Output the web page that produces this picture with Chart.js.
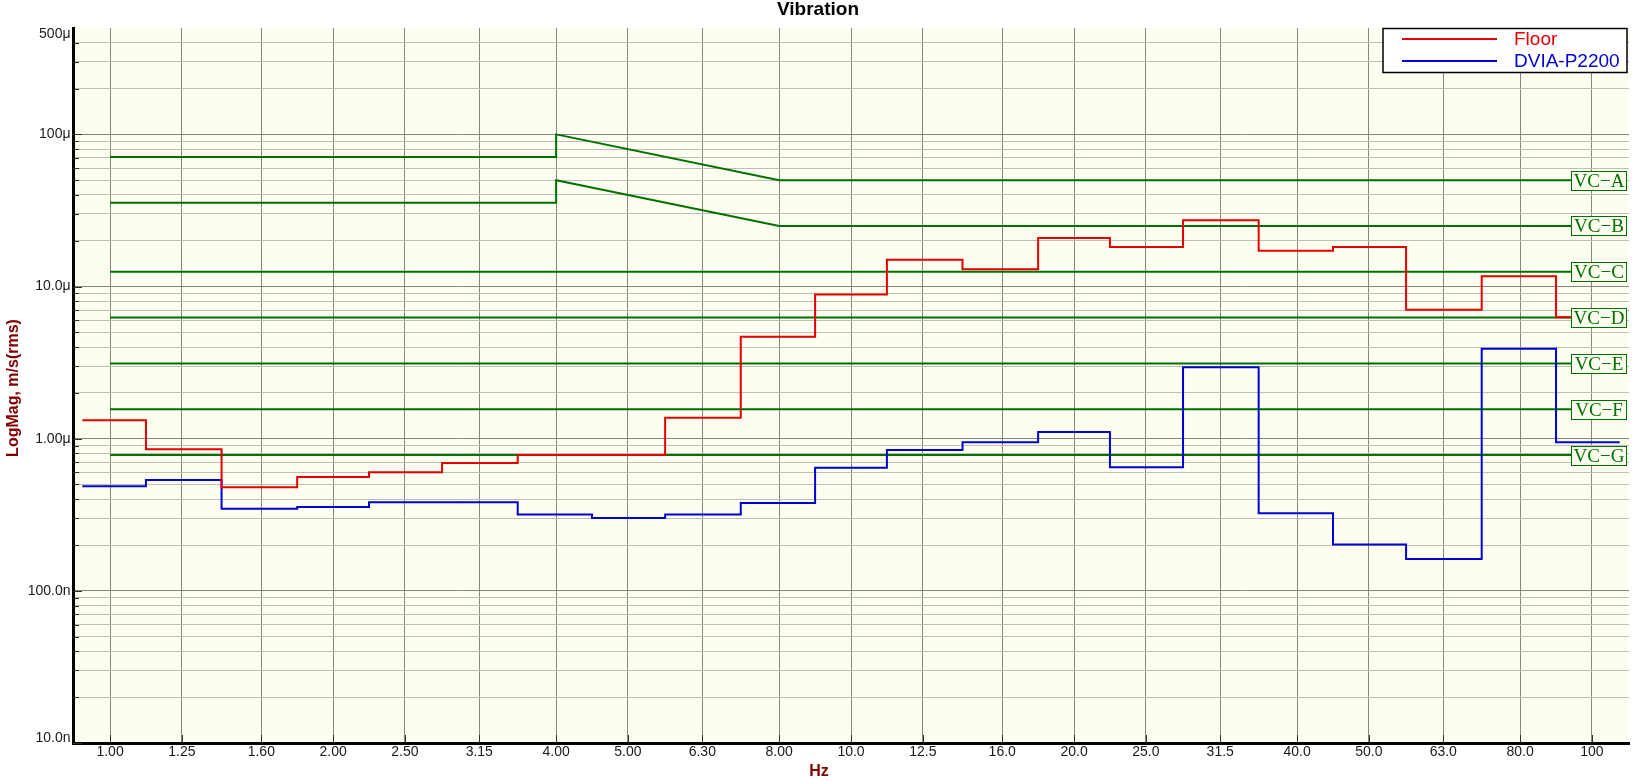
<!DOCTYPE html>
<html>
<head>
<meta charset="utf-8">
<script src="https://cdn.jsdelivr.net/npm/chart.js@4.4.1/dist/chart.umd.min.js"></script>
<style>
html,body{margin:0;padding:0;background:#ffffff;}
#wrap{width:1636px;height:781px;position:relative;}
canvas{display:block;}
</style>
</head>
<body>
<div id="wrap"><canvas id="c" width="1636" height="781"></canvas></div>
<script>
// ---- data (velocity in µm/s rms, 1/3-octave bands) ----
const bandLabels = ['1.00','1.25','1.60','2.00','2.50','3.15','4.00','5.00','6.30','8.00','10.0','12.5','16.0','20.0','25.0','31.5','40.0','50.0','63.0','80.0','100'];
const bandCenters = [1,1.25,1.6,2,2.5,3.15,4,5,6.3,8,10,12.5,16,20,25,31.5,40,50,63,80,100];
const floorUm = [1.32,0.853,0.48,0.561,0.602,0.693,0.78,0.78,1.37,4.67,8.87,15.0,13.0,20.8,18.2,27.3,17.2,18.2,7.03,11.7,6.27];
const dviaUm  = [0.487,0.536,0.346,0.356,0.382,0.382,0.317,0.301,0.317,0.378,0.643,0.844,0.947,1.108,0.648,2.95,0.324,0.2015,0.1616,3.9,0.948];
const vcNames  = ['VC−A','VC−B','VC−C','VC−D','VC−E','VC−F','VC−G'];
const vcLowUm  = [71,35.5,12.5,6.25,3.12,1.56,0.78];   // below 4 Hz
const vcPeakUm = [100,50,12.5,6.25,3.12,1.56,0.78];    // at 4 Hz
const vcHighUm = [50,25,12.5,6.25,3.12,1.56,0.78];     // from 8 Hz
const vcFreqs  = [1,4,4,8,100];
const yTickValues = [1e-8,1e-7,1e-6,1e-5,1e-4,5e-4];
const yTickLabels = ['10.0n','100.0n','1.00μ','10.0μ','100μ','500μ'];
const seriesNames = ['Floor','DVIA-P2200'];

// ---- styles ----
const RED = 'rgb(228,0,0)', BLUE = 'rgb(0,0,210)', GREEN = 'rgb(0,112,0)';
const PLOT_BG = '#fefef0';
const SANS = '"Liberation Sans", Arial, sans-serif';
const SERIF = '"Liberation Serif", "Times New Roman", serif';
const BAND_EDGE = 1.09; // half-band extent of first/last band

const U = 1e-6;
function bandSeries(vals){
  const pts = bandCenters.map((f,i)=>({x:f, y:vals[i]*U}));
  pts.unshift({x: bandCenters[0]/BAND_EDGE, y: vals[0]*U});
  pts.push({x: bandCenters[bandCenters.length-1]*BAND_EDGE, y: vals[vals.length-1]*U});
  return pts;
}
function vcSeries(i){
  const ys = [vcLowUm[i], vcLowUm[i], vcPeakUm[i], vcHighUm[i], vcHighUm[i]];
  return vcFreqs.map((f,k)=>({x:f, y:ys[k]*U}));
}

const yGridVals = [];
for (let e=-8; e<=-4; e++) for (let m=1; m<=9; m++){ const v = m*Math.pow(10,e); if (v <= 5e-4*1.0001) yGridVals.push(v); }
const isDecade = v => Math.abs(Math.log10(v) - Math.round(Math.log10(v))) < 1e-9;

const datasets = [
  {label: seriesNames[0], data: bandSeries(floorUm), borderColor: RED, borderWidth: 2, stepped: 'middle', pointRadius: 0, fill: false},
  {label: seriesNames[1], data: bandSeries(dviaUm), borderColor: BLUE, borderWidth: 2, stepped: 'middle', pointRadius: 0, fill: false}
];
vcNames.forEach((n,i)=>datasets.push({label: n, data: vcSeries(i), borderColor: GREEN, borderWidth: 2, pointRadius: 0, fill: false, tension: 0}));

const bgPlugin = {
  id: 'bg',
  beforeDraw(chart){
    const {ctx, chartArea:a} = chart;
    ctx.save(); ctx.fillStyle = PLOT_BG; ctx.fillRect(a.left, a.top, a.right-a.left, a.bottom-a.top); ctx.restore();
  }
};

const vcLabelPlugin = {
  id: 'vcLabels',
  afterDatasetsDraw(chart){
    const {ctx, chartArea:a, scales:{y}} = chart;
    ctx.save();
    ctx.font = '19px ' + SERIF;
    ctx.textAlign = 'center'; ctx.textBaseline = 'middle';
    vcNames.forEach((n,i)=>{
      const py = y.getPixelForValue(vcHighUm[i]*U);
      const w = 55, h = 19;
      const x0 = Math.round(a.right - 3 - w) + 0.5;
      const y0 = Math.round(py - h/2) + 0.5;
      ctx.fillStyle = PLOT_BG; ctx.fillRect(x0, y0, w, h);
      ctx.strokeStyle = GREEN; ctx.lineWidth = 1; ctx.strokeRect(x0, y0, w, h);
      ctx.fillStyle = GREEN; ctx.fillText(n, x0 + w/2, y0 + h/2 + 1);
    });
    ctx.restore();
  }
};

const decorPlugin = {
  id: 'decor',
  afterDraw(chart){
    const {ctx, chartArea:a, scales:{x, y}} = chart;
    ctx.save();
    // tick marks
    ctx.strokeStyle = '#303030'; ctx.lineWidth = 1;
    y.ticks.forEach(t=>{
      if (t.value >= 5e-4*0.999) return;
      const py = Math.round(y.getPixelForValue(t.value)) + 0.5;
      ctx.beginPath(); ctx.moveTo(a.left, py); ctx.lineTo(a.left + (isDecade(t.value) ? 9 : 6), py); ctx.stroke();
    });
    x.ticks.forEach(t=>{
      const px = Math.round(x.getPixelForValue(t.value)) + 0.5;
      ctx.beginPath(); ctx.moveTo(px, a.bottom); ctx.lineTo(px, a.bottom - 8); ctx.stroke();
    });
    // y tick labels
    ctx.fillStyle = '#1a1a1a'; ctx.font = '14px ' + SANS;
    ctx.textAlign = 'right'; ctx.textBaseline = 'middle';
    yTickValues.forEach((v,i)=>{
      let py = y.getPixelForValue(v);
      py = Math.max(a.top + 6.5, Math.min(a.bottom - 5, py));
      ctx.fillText(yTickLabels[i], a.left - 2.5, py);
    });
    // titles
    ctx.fillStyle = '#000'; ctx.font = 'bold 19px ' + SANS; ctx.textAlign = 'center';
    ctx.fillText('Vibration', chart.width/2, 10);
    ctx.fillStyle = '#800000'; ctx.font = 'bold 16px ' + SANS;
    ctx.fillText('Hz', chart.width/2 + 1, 772);
    ctx.save(); ctx.translate(14, 388); ctx.rotate(-Math.PI/2);
    ctx.fillText('LogMag, m/s(rms)', 0, 0); ctx.restore();
    // legend
    const lx = a.right - 2 - 244, ly = a.top, lw = 244, lh = 44;
    ctx.fillStyle = '#ffffff'; ctx.fillRect(lx, ly, lw, lh);
    ctx.strokeStyle = '#000'; ctx.lineWidth = 1.5; ctx.strokeRect(lx, ly + 0.5, lw, lh);
    [[RED, 11], [BLUE, 33]].forEach(([c, dy], i)=>{
      ctx.strokeStyle = c; ctx.lineWidth = 2;
      ctx.beginPath(); ctx.moveTo(lx + 19, ly + dy); ctx.lineTo(lx + 114, ly + dy); ctx.stroke();
      ctx.fillStyle = c; ctx.font = '19px ' + SANS; ctx.textAlign = 'left'; ctx.textBaseline = 'middle';
      ctx.fillText(seriesNames[i], lx + 131, ly + dy + 1);
    });
    ctx.restore();
  }
};

new Chart(document.getElementById('c'), {
  type: 'line',
  data: {datasets},
  options: {
    responsive: false,
    animation: false,
    devicePixelRatio: 1,
    events: [],
    layout: {padding: {top: 28, right: 7, bottom: 0, left: 0}},
    plugins: {legend: {display: false}, title: {display: false}, tooltip: {enabled: false}},
    scales: {
      x: {
        type: 'logarithmic',
        min: Math.pow(10, -0.05), max: Math.pow(10, 2.05),
        afterBuildTicks: s => { s.ticks = bandCenters.map(v => ({value: v})); },
        afterFit: s => { s.height = 38; },
        ticks: {
          autoSkip: false, maxRotation: 0, minRotation: 0, padding: 1,
          font: {family: SANS, size: 14}, color: '#1a1a1a',
          callback: (v, i) => bandLabels[i]
        },
        grid: {drawTicks: false, color: 'rgb(135,135,130)', lineWidth: 1},
        border: {display: true, color: '#000', width: 3}
      },
      y: {
        type: 'logarithmic',
        min: 1e-8, max: 5e-4,
        afterBuildTicks: s => { s.ticks = yGridVals.map(v => ({value: v})); },
        afterFit: s => { s.width = 73; },
        ticks: {display: false},
        grid: {
          drawTicks: false, lineWidth: 1,
          color: c => {
            const v = c.tick ? c.tick.value : 1;
            if (v >= 5e-4*0.999) return 'rgba(0,0,0,0)';
            return isDecade(v) ? 'rgb(135,135,130)' : 'rgb(190,190,182)';
          }
        },
        border: {display: true, color: '#000', width: 3}
      }
    }
  },
  plugins: [bgPlugin, vcLabelPlugin, decorPlugin]
});
</script>
</body>
</html>
